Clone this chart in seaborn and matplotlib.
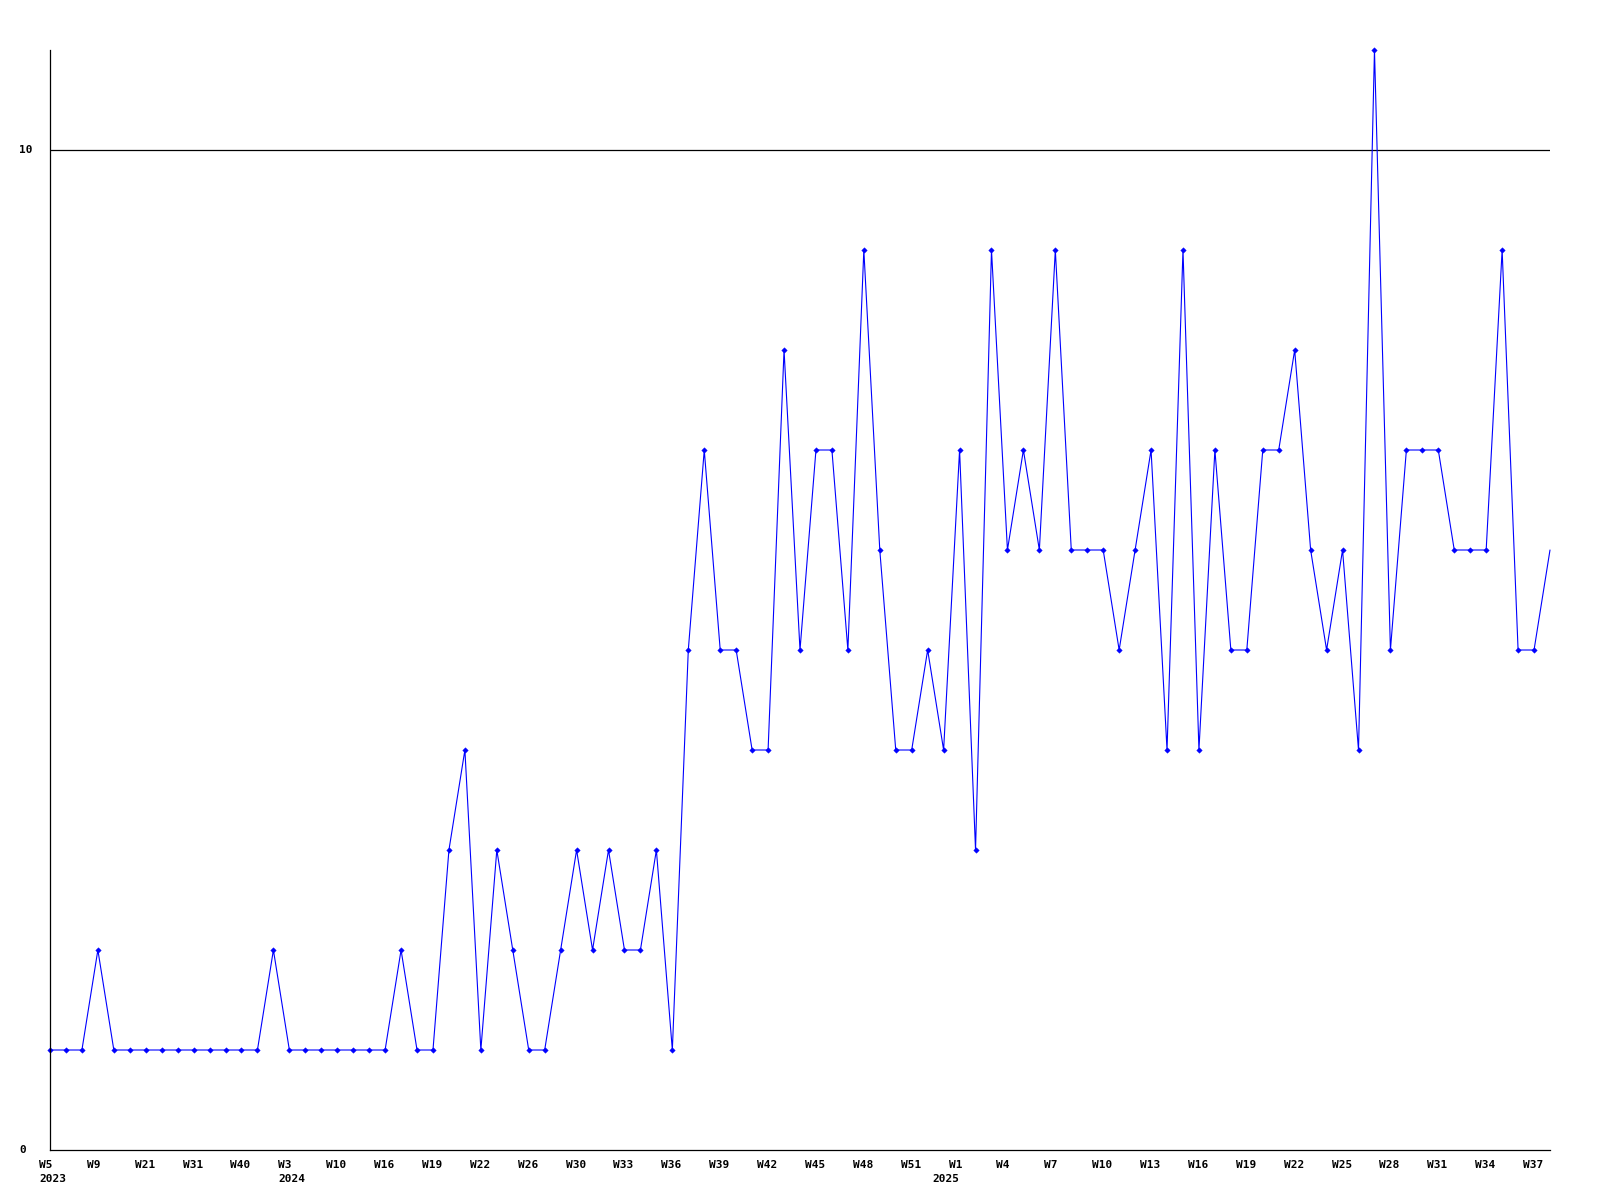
import matplotlib
matplotlib.use("Agg")
import matplotlib.pyplot as plt
import seaborn as sns
import pandas as pd
from matplotlib.transforms import ScaledTranslation, blended_transform_factory

# Weekly counts, one per plotted week (left to right)
values = [1, 1, 1, 2, 1, 1, 1, 1, 1, 1, 1, 1, 1, 1, 2, 1, 1, 1, 1, 1,
          1, 1, 2, 1, 1, 3, 4, 1, 3, 2, 1, 1, 2, 3, 2, 3, 2, 2, 3, 1,
          5, 7, 5, 5, 4, 4, 8, 5, 7, 7, 5, 9, 6, 4, 4, 5, 4, 7, 3, 9,
          6, 7, 6, 9, 6, 6, 6, 5, 6, 7, 4, 9, 4, 7, 5, 5, 7, 7, 8, 6,
          5, 6, 4, 11, 5, 7, 7, 7, 6, 6, 6, 9, 5, 5, 6]

# Labels shown on every third week
tick_labels = ["W5", "W9", "W21", "W31", "W40", "W3", "W10", "W16", "W19", "W22",
               "W26", "W30", "W33", "W36", "W39", "W42", "W45", "W48", "W51", "W1",
               "W4", "W7", "W10", "W13", "W16", "W19", "W22", "W25", "W28", "W31",
               "W34", "W37"]
tick_step = 3
year_positions = [0, 15, 56]
year_labels = ["2023", "2024", "2025"]
y_ticks = [0, 10]

sns.set_style("white")
plt.rcParams["font.family"] = ["DejaVu Sans Mono", "DejaVu Sans"]

fig = plt.figure(figsize=(16, 12), dpi=100)
fig.patch.set_facecolor("white")
ax = fig.add_axes([50 / 1600, 50 / 1200, 1500 / 1600, 1100 / 1200])

df = pd.DataFrame({"week": range(len(values)), "count": values})
sns.lineplot(data=df, x="week", y="count", ax=ax, color="#0000ff",
             linewidth=0.8, marker="D", markersize=2.8, markeredgewidth=0.3,
             markeredgecolor="#0000ff", markerfacecolor="#0000ff",
             markevery=list(range(len(values) - 1)), clip_on=False)

ax.set_xlim(0, len(values) - 1)
ax.set_ylim(0, 11)
ax.axhline(10, color="black", linewidth=0.9, zorder=1)

for s in ["top", "right"]:
    ax.spines[s].set_visible(False)
for s in ["left", "bottom"]:
    ax.spines[s].set_color("black")
    ax.spines[s].set_linewidth(0.9)

ax.set_xlabel("")
ax.set_ylabel("")
ax.set_xticks([])
ax.set_yticks([])
ax.grid(False)

font = dict(fontfamily="DejaVu Sans Mono", fontweight="bold", fontsize=8, color="black")

xtrans = blended_transform_factory(ax.transData, ax.transAxes)
for i, lab in enumerate(tick_labels):
    pos = i * tick_step
    ax.text(pos, 0, lab, ha="left", va="top",
            transform=xtrans + ScaledTranslation(-11 / 100, -10 / 100, fig.dpi_scale_trans),
            **font)
for pos, yl in zip(year_positions, year_labels):
    ax.text(pos, 0, yl, ha="left", va="top",
            transform=xtrans + ScaledTranslation(-11 / 100, -24 / 100, fig.dpi_scale_trans),
            **font)

ytrans = blended_transform_factory(fig.transFigure, ax.transData)
for yv in y_ticks:
    ax.text(19 / 1600, yv, str(yv), ha="left", va="center", transform=ytrans, **font)

fig.savefig("out.png", dpi=100, facecolor="white")
